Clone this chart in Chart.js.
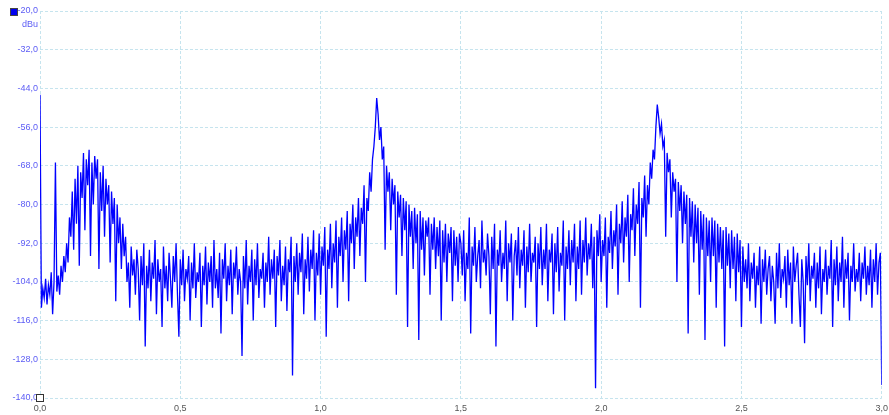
<!DOCTYPE html>
<html lang="es">
<head>
    <meta charset="UTF-8">
    <script src="https://cdn.jsdelivr.net/npm/chart.js"></script>
    <title>Espectro dBu</title>
    <style>
        html, body { margin: 0; padding: 0; background: #fff; overflow: hidden; }
        #wrap { width: 889px; height: 415px; overflow: hidden; }
    </style>
</head>
<body>

    <div id="wrap">
        <canvas id="spectrum" width="893" height="415"></canvas>
    </div>

    <script>
        // datos (frecuencia 0..3, nivel en dBu)
        var freqStart = 0;
        var freqStep = 0.005;
        var levels = [
            -46, -112, -106, -109, -103, -111, -105, -108, -101, -114, -104, -67, -107, -102, -108, -99, -104, -96, -101, -92,
            -98, -84, -90, -76, -94, -72, -86, -68, -99, -70, -78, -64, -88, -66, -74, -63, -96, -67, -80, -65,
            -72, -66, -100, -70, -82, -68, -90, -72, -80, -74, -98, -76, -86, -78, -110, -80, -92, -84, -100, -86,
            -96, -90, -104, -98, -112, -93, -102, -97, -108, -94, -100, -116, -96, -105, -92, -124, -99, -106, -94, -110,
            -98, -103, -91, -114, -97, -104, -100, -118, -93, -106, -99, -110, -95, -103, -112, -96, -104, -92, -108, -121,
            -97, -105, -94, -110, -100, -103, -96, -116, -98, -106, -92, -109, -101, -104, -95, -118, -99, -105, -93, -111,
            -98, -104, -96, -112, -91, -106, -100, -109, -95, -120, -97, -103, -92, -110, -99, -105, -94, -114, -98, -103,
            -93, -108, -100, -104, -127, -96, -106, -91, -111, -99, -104, -94, -116, -97, -105, -92, -109, -100, -103, -95,
            -112, -98, -104, -90, -108, -97, -103, -94, -118, -96, -102, -91, -110, -99, -105, -93, -113, -97, -101, -90,
            -133, -96, -104, -92, -108, -95, -101, -89, -114, -97, -103, -90, -107, -94, -100, -88, -116, -95, -102, -89,
            -108, -93, -99, -87, -121, -94, -100, -86, -106, -92, -98, -85, -112, -90, -96, -84, -104, -88, -94, -82,
            -110, -86, -92, -80, -100, -84, -90, -78, -96, -81, -86, -74, -104, -78, -82, -70, -76, -66, -62, -56,
            -47, -52, -60, -56, -66, -62, -94, -68, -76, -70, -88, -72, -80, -74, -108, -76, -84, -77, -96, -78,
            -88, -79, -118, -80, -90, -82, -100, -81, -92, -83, -122, -82, -94, -84, -102, -85, -90, -84, -108, -86,
            -94, -84, -100, -87, -96, -85, -116, -88, -98, -86, -104, -89, -95, -87, -110, -88, -99, -90, -104, -89,
            -92, -102, -88, -110, -95, -100, -84, -120, -93, -99, -87, -104, -96, -91, -106, -85, -98, -94, -102, -89,
            -96, -114, -90, -100, -86, -124, -94, -99, -88, -104, -95, -100, -85, -110, -92, -98, -89, -116, -96, -91,
            -102, -87, -106, -94, -99, -88, -112, -93, -101, -86, -104, -95, -98, -90, -118, -92, -100, -87, -105, -94,
            -100, -86, -110, -94, -98, -89, -114, -92, -101, -87, -107, -95, -99, -85, -116, -93, -100, -88, -105, -91,
            -98, -86, -110, -93, -100, -85, -108, -91, -98, -84, -102, -92, -97, -86, -106, -90, -137, -88, -96, -83,
            -104, -91, -96, -84, -112, -90, -95, -82, -100, -88, -93, -80, -108, -86, -92, -79, -98, -84, -90, -77,
            -104, -83, -88, -75, -96, -80, -86, -73, -112, -78, -84, -71, -90, -74, -80, -67, -72, -63, -66, -56,
            -49, -53, -58, -55, -62, -60, -90, -64, -70, -66, -84, -70, -76, -72, -104, -73, -82, -74, -92, -76,
            -86, -77, -120, -78, -90, -79, -98, -80, -92, -81, -108, -82, -94, -83, -122, -84, -96, -85, -104, -84,
            -96, -85, -112, -86, -98, -87, -100, -88, -124, -87, -99, -89, -106, -88, -100, -90, -110, -89, -101, -91,
            -118, -93, -104, -97, -106, -92, -110, -98, -103, -95, -112, -99, -105, -93, -117, -97, -104, -94, -108, -100,
            -96, -110, -99, -104, -117, -95, -106, -92, -109, -100, -103, -96, -112, -94, -105, -98, -117, -93, -104, -99,
            -95, -108, -118, -97, -104, -123, -96, -105, -92, -110, -99, -103, -95, -112, -98, -106, -93, -114, -100, -104,
            -94, -108, -99, -103, -91, -118, -97, -105, -93, -110, -98, -104, -90, -112, -97, -103, -95, -116, -99, -104,
            -92, -107, -100, -104, -95, -110, -98, -103, -93, -108, -99, -105, -94, -112, -97, -104, -92, -108, -98, -95,
            -136
        ];
        var yTicksMin = -140;
        var yTicksMax = -20;
        var yTicksStep = 12;
        var xTicksMin = 0;
        var xTicksMax = 3;
        var xTicksStep = 0.5;
        var unitLabel = 'dBu';

        var points = levels.map(function (v, i) {
            return { x: freqStart + i * freqStep, y: v };
        });

        function coma(v) {
            return v.toFixed(1).replace('.', ',');
        }

        // cuadrito de leyenda, unidad y marca del origen
        var extras = {
            id: 'extras',
            afterDraw: function (chart) {
                var c = chart.ctx;
                c.save();
                c.fillStyle = '#0000ee';
                c.fillRect(11, 9, 6, 6);
                c.strokeStyle = '#444';
                c.lineWidth = 1;
                c.strokeRect(10.5, 8.5, 7, 7);
                c.fillStyle = '#5c5cf5';
                c.font = '9px "Liberation Sans", Arial, sans-serif';
                c.textAlign = 'left';
                c.textBaseline = 'middle';
                c.fillText(unitLabel, 22, 25);
                var a = chart.chartArea;
                c.fillStyle = '#fff';
                c.fillRect(a.left - 3, a.bottom - 3, 6, 6);
                c.strokeStyle = '#333';
                c.strokeRect(a.left - 3.5, a.bottom - 3.5, 7, 7);
                c.restore();
            }
        };

        var ctx = document.getElementById('spectrum').getContext('2d');
        var chart = new Chart(ctx, {
            type: 'line',
            data: {
                datasets: [{
                    data: points,
                    borderColor: '#0000ff',
                    borderWidth: 1.3,
                    pointRadius: 0,
                    tension: 0,
                    fill: false
                }]
            },
            options: {
                responsive: false,
                animation: false,
                parsing: false,
                layout: { padding: { top: 11, left: 0, right: 0, bottom: 0 } },
                plugins: {
                    legend: { display: false },
                    tooltip: { enabled: false }
                },
                scales: {
                    x: {
                        type: 'linear',
                        min: xTicksMin,
                        max: xTicksMax,
                        border: { display: false, dash: [3, 2] },
                        grid: {
                            color: '#c6e4ee',
                            lineWidth: 1,
                            drawTicks: false
                        },
                        ticks: {
                            stepSize: xTicksStep,
                            color: '#555',
                            padding: 5,
                            maxRotation: 0,
                            font: { family: '"Liberation Sans", Arial, sans-serif', size: 9 },
                            callback: function (v) { return coma(v); }
                        },
                        afterFit: function (axis) { axis.height = 17; }
                    },
                    y: {
                        min: yTicksMin,
                        max: yTicksMax,
                        border: { display: false, dash: [3, 2] },
                        grid: {
                            color: '#c6e4ee',
                            lineWidth: 1,
                            drawTicks: false
                        },
                        ticks: {
                            stepSize: yTicksStep,
                            color: '#5c5cf5',
                            padding: 2,
                            font: { family: '"Liberation Sans", Arial, sans-serif', size: 9 },
                            callback: function (v) { return coma(v); }
                        },
                        afterFit: function (axis) { axis.width = 40; }
                    }
                }
            },
            plugins: [extras]
        });
    </script>

</body>
</html>
